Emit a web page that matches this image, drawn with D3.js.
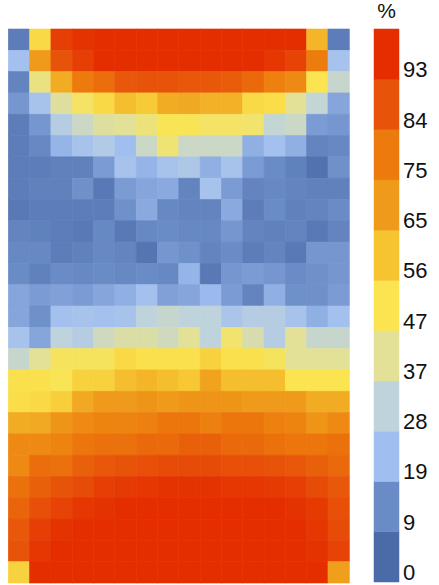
<!DOCTYPE html>
<html>
<head>
<meta charset="utf-8">
<script src="https://cdn.jsdelivr.net/npm/d3@7"></script>
<style>
  body { margin: 0; background: #fff; }
  text { font-family: "Liberation Sans", Arial, sans-serif; fill: #111; }
</style>
</head>
<body>
<svg width="439" height="585"></svg>
<script>
// cell values (%), one row per line, top to bottom
var grid = [
    [ 5, 50, 89, 92, 95, 95, 95, 95, 95, 95, 95, 95, 95, 93, 59,  5],
    [20, 65, 84, 89, 93, 94, 94, 94, 94, 94, 94, 93, 91, 88, 74, 21],
    [ 7, 40, 61, 75, 78, 83, 84, 84, 83, 83, 82, 79, 73, 70, 47, 30],
    [11, 21, 36, 44, 50, 57, 54, 61, 62, 60, 60, 50, 49, 37, 29, 14],
    [ 5, 11, 25, 31, 36, 37, 41, 46, 46, 44, 44, 43, 29, 31, 12, 11],
    [ 5,  8, 17, 21, 24, 19, 31, 42, 31, 31, 31, 16, 20, 16,  7,  8],
    [ 5,  5,  6,  6, 12, 21, 17, 21, 23, 16, 21, 12,  9,  6,  2, 10],
    [ 5,  6,  6, 10,  4, 12, 14, 15,  7, 21, 12,  7,  8,  7,  6,  6],
    [ 4,  5,  5,  5,  5, 10, 15,  8,  7,  7, 15,  5,  9,  6,  7,  9],
    [ 7,  6,  5,  4,  8,  4,  8,  9,  8,  8, 11,  7,  6,  7,  4,  7],
    [ 8,  8,  5,  6,  8,  7,  3, 11, 10,  7,  9,  5,  7,  4, 11, 11],
    [ 9,  6,  9,  8,  9,  8,  9,  8, 17,  4, 11, 12, 11,  9, 10, 11],
    [14, 12, 13, 12, 14, 16, 20, 13, 14, 18, 12,  7, 16, 10, 10, 12],
    [14, 10, 20, 21, 20, 21, 28, 30, 28, 28, 22, 25, 25, 21, 16, 20],
    [21, 14, 28, 25, 32, 35, 35, 32, 37, 28, 43, 34, 25, 37, 30, 30],
    [30, 37, 45, 45, 45, 50, 48, 48, 48, 52, 48, 48, 45, 37, 37, 37],
    [48, 48, 46, 52, 52, 57, 59, 57, 55, 63, 57, 57, 57, 47, 47, 47],
    [49, 50, 53, 62, 65, 65, 67, 65, 67, 67, 67, 65, 65, 65, 61, 61],
    [61, 62, 67, 70, 72, 72, 73, 76, 76, 73, 76, 76, 73, 72, 67, 70],
    [70, 70, 72, 76, 77, 77, 79, 79, 81, 81, 79, 79, 77, 76, 76, 77],
    [70, 78, 77, 81, 83, 84, 85, 86, 86, 86, 85, 85, 84, 83, 81, 79],
    [77, 81, 84, 86, 89, 90, 91, 92, 92, 92, 91, 91, 90, 89, 86, 83],
    [80, 85, 88, 91, 92, 93, 94, 96, 96, 96, 95, 95, 93, 92, 90, 85],
    [83, 89, 92, 95, 96, 97, 97, 97, 97, 97, 97, 96, 95, 93, 91, 86],
    [84, 91, 94, 97, 97, 97, 97, 97, 97, 97, 97, 97, 97, 95, 92, 88],
    [52, 93, 97, 97, 97, 97, 97, 97, 97, 97, 97, 97, 97, 97, 95, 64]
];

// legend breaks and their colours
var legendTicks = [0, 9, 19, 28, 37, 47, 56, 65, 75, 84, 93];
var palette = ["#4a6aa8", "#6a8cc6", "#a0bef0", "#bfd3dc", "#e2e197", "#fbe44f",
               "#f6c331", "#ef9a1a", "#ec7a0c", "#e8530a", "#e52e00"];
var legendTitle = "%";

var svg = d3.select("svg");

var color = d3.scaleLinear()
    .domain(legendTicks)
    .range(palette)
    .clamp(true);

// heatmap
var cells = [];
grid.forEach(function(row, r){
    row.forEach(function(v, c){ cells.push({r: r, c: c, v: v}); });
});

var scX = d3.scaleBand().domain(d3.range(grid[0].length)).range([8.3, 349.3]);
var scY = d3.scaleBand().domain(d3.range(grid.length)).range([29, 583]);

svg.append("g")
    .selectAll("rect")
    .data(cells).enter()
    .append("rect")
    .attr("x", d => scX(d.c))
    .attr("y", d => scY(d.r))
    .attr("width", scX.bandwidth())
    .attr("height", scY.bandwidth())
    .attr("fill", d => color(d.v))
    .attr("stroke", d => color(d.v))
    .attr("stroke-width", 0.6);

// legend
var scL = d3.scaleBand().domain(legendTicks).range([582, 29]);
var gLeg = svg.append("g");

gLeg.selectAll("rect")
    .data(legendTicks).enter()
    .append("rect")
    .attr("x", 374)
    .attr("y", d => scL(d))
    .attr("width", 25)
    .attr("height", scL.bandwidth())
    .attr("fill", (d, i) => palette[i])
    .attr("stroke", (d, i) => palette[i])
    .attr("stroke-width", 0.5);

gLeg.selectAll("text")
    .data(legendTicks).enter()
    .append("text")
    .attr("x", 403)
    .attr("y", d => scL(d) + scL.bandwidth() - 2)
    .attr("font-size", 22)
    .text(d => d);

svg.append("text")
    .attr("x", 386.5)
    .attr("y", 18)
    .attr("text-anchor", "middle")
    .attr("font-size", 21)
    .text(legendTitle);
</script>
</body>
</html>
